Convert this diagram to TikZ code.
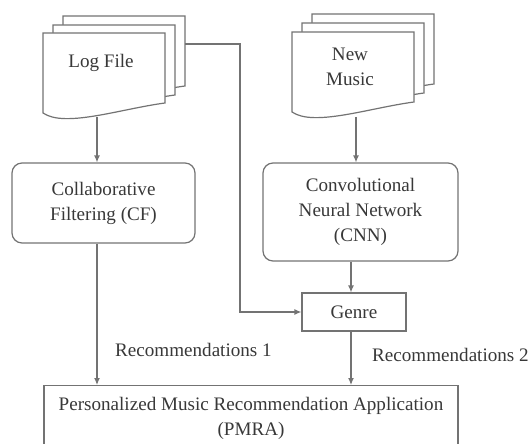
\documentclass[tikz,border=0pt]{standalone}
\usepackage{fontspec}
\setmainfont{Liberation Serif}
\usetikzlibrary{arrows.meta,positioning}
\tikzset{
  ln/.style={draw=black!55, line width=1.2pt},
  arr/.style={ln, -{Latex[length=7pt,width=6pt]}},
  pagefill/.style={ln, fill=white},
  rbox/.style={ln, rounded corners=10pt, align=center, text=black!78, inner sep=0pt},
  sbox/.style={ln, align=center, text=black!78, inner sep=0pt},
  lbl/.style={text=black!78, inner sep=0pt, align=center},
}
\newcommand{\docpage}[2]{%
  \draw[pagefill, shift={(#1,#2)}] (0,0) -- (122,0) -- (122,70)
    .. controls (77,76) and (22,95) .. (0,80) -- cycle;}
\begin{document}
\begin{tikzpicture}[x=1pt,y=-1pt,font=\fontsize{19.1}{25}\selectfont]
\useasboundingbox (0,0) rectangle (528,444);
\clip (0,0) rectangle (528,444);
% Log File stack
\docpage{63}{16}
\docpage{53}{25}
\docpage{43}{33}
\node[lbl] (log) at (101,63) {Log File};
\coordinate (logbot) at (97,117);
\coordinate (logside) at (185,44);
\coordinate (turn) at (240,44);
% New Music stack
\docpage{312}{14}
\docpage{302}{23}
\docpage{292}{32}
\node[lbl] (newmusic) at (350,67) {New\\Music};
\coordinate (nmbot) at (356,117);
% boxes
\node[rbox, minimum width=183pt, minimum height=80pt] (cf) at (103.5,203) {Collaborative\\Filtering (CF)};
\node[rbox, minimum width=195pt, minimum height=98pt] (cnn) at (360.5,212) {Convolutional\\Neural Network\\(CNN)};
\node[sbox, minimum width=104pt, minimum height=38pt] (genre) at (354,312) {Genre};
\node[sbox, minimum width=414pt, minimum height=66pt, anchor=north] (pmra) at (251,385) {Personalized Music Recommendation Application\\(PMRA)};
% labels
\node[lbl, anchor=west] (rec1) at (115,350) {Recommendations 1};
\node[lbl, anchor=west] (rec2) at (372,355) {Recommendations 2};
% connectors
\draw[arr] (logbot) -- (cf.north -| logbot);
\draw[arr] (nmbot) -- (cnn.north -| nmbot);
\draw[arr] (logside) -- (turn) |- (genre.west);
\coordinate (cg) at (351,0);
\draw[arr] (cnn.south -| cg) -- (genre.north -| cg);
\draw[arr] (genre.south -| cg) -- (pmra.north -| cg);
\draw[arr] (cf.south -| logbot) -- (pmra.north -| logbot);
\end{tikzpicture}
\end{document}
